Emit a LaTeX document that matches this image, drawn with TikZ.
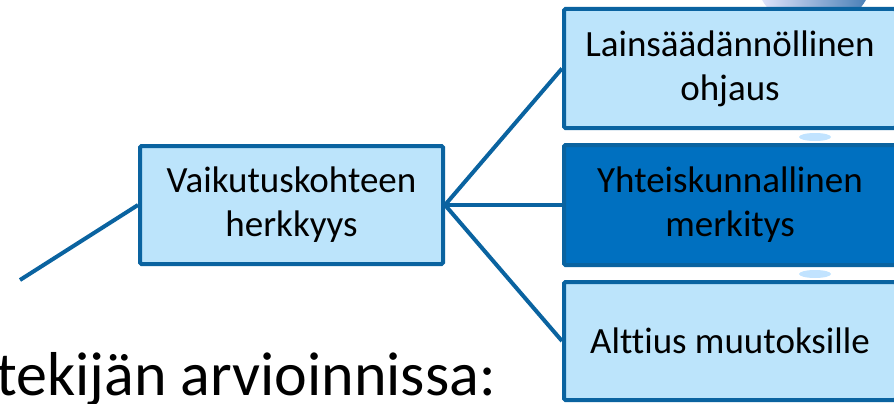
\documentclass[tikz,border=0pt]{standalone}
\usepackage{fontspec}
\setmainfont[Ligatures=NoCommon]{Carlito}
\definecolor{edgeblue}{RGB}{10,99,160}
\definecolor{paleblue}{RGB}{188,228,251}
\definecolor{deepblue}{RGB}{0,112,192}
\tikzset{
  factorbox/.style={draw=edgeblue, line width=4pt, fill=paleblue, rounded corners=1.5pt,
    align=center, inner sep=0pt, font=\fontsize{37}{44}\selectfont},
  link/.style={draw=edgeblue, line width=4pt}
}
\begin{document}
\begin{tikzpicture}[x=1pt,y=-1pt]
    \useasboundingbox (0,0) rectangle (894,404);
    \clip (0,0) rectangle (894,404);
    % background spheres
    \shade[left color=blue!8, right color=blue!50!cyan!60!black!75] (814,-30) circle (60);
    \fill[blue!45!cyan!70, opacity=0.35] (815,137) ellipse (16 and 4);
    \fill[blue!45!cyan!70, opacity=0.35] (815,274) ellipse (16 and 4);
    % boxes
    \node[factorbox, minimum width=303pt, minimum height=118pt] (herkkyys) at (291.5,205) {Vaikutuskohteen\\herkkyys};
    \node[factorbox, minimum width=332pt, minimum height=119pt] (ohjaus) at (730,68.5) {Lainsäädännöllinen\\ohjaus};
    \node[factorbox, fill=deepblue, minimum width=332pt, minimum height=120pt] (merkitys) at (730,205) {Yhteiskunnallinen\\merkitys};
    \node[factorbox, minimum width=332pt, minimum height=118pt] (alttius) at (730,341) {Alttius muutoksille};
    % connectors
    \coordinate (tail) at (20,280);
    \draw[link] (tail) -- (herkkyys.west);
    \draw[link] (herkkyys.east) -- (ohjaus.west);
    \draw[link] (herkkyys.east) -- (merkitys.west);
    \draw[link] (herkkyys.east) -- (alttius.west);
    % slide text
    \node[anchor=base west, inner sep=0pt, font=\fontsize{62}{74}\selectfont] (otsikko) at (-4,395) {tekijän arvioinnissa:};
\end{tikzpicture}
\end{document}
